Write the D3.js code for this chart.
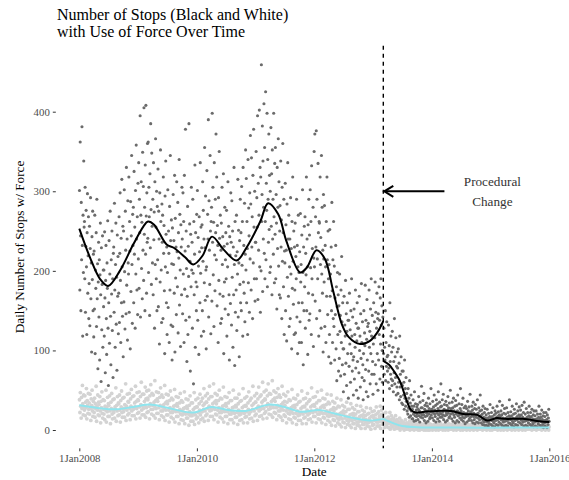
<!DOCTYPE html>
<html lang="en">

<head>
    <meta charset="utf-8">
    <title>Stops with Use of Force</title>
    <script type="text/javascript" src="https://cdn.jsdelivr.net/npm/d3@7/dist/d3.min.js"></script>
    <style>
        body {
            margin: 0;
            background: #fff;
        }

        text {
            font-family: "Liberation Serif", "Times New Roman", serif;
        }

        .tick-label {
            fill: #4d4d4d;
            font-size: 10.8px;
        }
    </style>
</head>

<body>

    <script type="text/javascript">
        //Width and height
        var w = 569;
        var h = 480;

        // Daily counts, one string per month from Jan 2008 to Dec 2015
        var firstMonth = "2008-01";
        var blackByMonth = [
            "301 176 362 244 150 286 214 381 232 118 270 198 338 255",
            "262 190 305 148 231 276 205 120 248 297 172 219 268 140",
            "184 256 131 228 292 165 210 98 243 189 275 150 221 117",
            "225 152 270 96 201 178 248 130 290 165 209 77 186 236",
            "142 214 88 195 260 170 61 229 126 183 244 104 201 155",
            "201 118 249 166 72 188 232 140 95 210 178 263 128 56",
            "160 238 109 196 275 143 82 214 171 250 125 190 66 222",
            "230 148 285 176 104 208 260 133 192 75 245 168 218 121",
            "172 268 135 222 298 188 110 241 160 315 205 143 256 92",
            "250 161 302 199 127 275 226 146 330 182 240 113 288 210",
            "196 318 148 262 225 102 287 174 244 345 208 134 271 232",
            "280 160 325 221 255 128 301 196 358 240 176 268 145 310",
            "215 336 178 290 248 395 142 270 312 203 261 165 349 226",
            "306 188 405 246 280 150 333 221 408 269 172 298 236 360",
            "241 362 198 305 268 144 322 229 385 277 183 348 256 210",
            "290 170 336 239 274 128 312 208 366 255 190 300 150 281",
            "214 328 155 275 240 108 298 186 352 262 201 135 284 236",
            "270 140 318 222 257 175 96 294 205 338 246 160 230 120",
            "198 302 154 250 222 110 281 176 345 238 132 264 209 88",
            "254 130 296 208 238 172 320 98 266 191 230 145 312 224",
            "180 286 122 248 216 340 157 271 201 105 258 230 170 305",
            "240 146 298 196 262 110 320 177 225 378 138 250 203 86",
            "168 281 120 231 193 385 142 259 212 74 246 180 305 201",
            "236 128 290 197 58 262 170 221 333 104 248 186 150 271",
            "180 301 138 242 206 95 268 224 160 336 197 255 118 229",
            "258 150 312 212 276 124 240 185 355 229 163 294 201 102",
            "205 326 168 271 240 390 142 288 226 183 345 250 121 262",
            "280 162 398 236 305 195 261 130 336 220 175 290 248 372",
            "214 318 156 257 232 110 292 188 350 241 171 270 134 226",
            "260 140 305 208 243 168 322 96 231 186 280 152 214 248",
            "190 276 118 234 205 312 145 256 170 88 243 220 159 298",
            "236 132 288 192 250 104 230 170 330 208 81 262 148 219",
            "176 270 125 224 196 315 142 251 210 92 238 183 290 160",
            "248 150 306 207 262 118 330 186 232 172 285 136 221 352",
            "201 316 160 262 228 120 340 185 279 244 148 298 215 370",
            "284 176 342 230 268 140 320 210 378 255 190 300 162 236",
            "236 350 190 292 255 395 164 310 226 270 402 205 330 148",
            "318 200 459 262 296 382 174 338 240 280 410 222 355 190",
            "262 425 214 310 276 398 180 340 290 236 372 252 320 198",
            "300 205 380 256 322 170 352 240 290 221 398 268 185 335",
            "246 355 190 296 260 152 330 228 280 366 206 312 170 250",
            "282 166 338 230 264 140 305 212 360 248 180 290 120 225",
            "210 310 150 258 226 112 284 192 336 240 168 270 130 205",
            "240 140 292 196 228 102 262 178 318 212 158 250 120 230",
            "176 260 122 218 190 290 142 232 96 205 270 160 198 110",
            "224 136 272 186 208 110 245 160 302 198 82 230 150 256",
            "180 268 128 222 195 318 150 240 205 95 258 172 290 138",
            "245 146 302 204 262 120 332 190 228 170 280 105 216 350",
            "205 372 162 268 230 376 140 290 215 190 335 248 118 262",
            "260 150 318 208 242 128 345 196 280 172 226 98 296 215",
            "186 282 130 232 205 110 262 168 318 214 145 250 190 92",
            "208 120 252 168 196 84 230 150 286 175 110 214 140 262",
            "130 206 88 166 145 232 102 180 62 155 198 120 170 74",
            "156 90 196 124 144 68 176 110 218 136 82 160 102 48",
            "102 168 70 132 118 188 84 146 56 124 160 96 138 40",
            "138 80 172 108 126 60 150 96 190 118 74 142 88 44",
            "92 152 64 120 104 176 78 134 50 112 160 86 128 40",
            "128 72 168 100 118 54 146 90 184 110 66 136 82 38",
            "96 150 62 122 106 182 76 138 48 114 164 88 130 42",
            "134 74 176 104 124 58 152 96 190 118 70 144 86 45",
            "108 160 70 136 116 186 82 148 58 128 172 96 140 50",
            "146 88 180 120 138 64 166 108 190 132 80 156 100 60",
            "142 118 96 128 70 104 88 150 62 110 80 136 92 74",
            "94 60 132 78 106 52 160 86 70 118 64 98 56 124",
            "62 104 48 86 72 140 58 92 66 116 44 80 54 98",
            "78 46 102 60 84 38 118 54 70 42 92 58 34 74",
            "56 32 74 44 60 26 88 40 52 30 66 36 46 24",
            "36 20 52 28 40 16 62 26 34 18 44 24 30 14",
            "26 14 38 20 30 11 48 22 18 33 12 25 17 29",
            "20 32 13 26 42 18 24 10 35 21 16 28 55 19",
            "28 15 37 22 19 46 12 26 31 17 24 9 34 21",
            "18 30 11 24 40 20 27 14 33 16 23 52 19 26",
            "26 15 36 22 29 12 44 20 25 17 31 10 38 23",
            "21 33 14 27 48 19 24 11 35 22 16 29 58 20",
            "30 16 38 23 19 45 13 26 32 18 25 10 36 22",
            "19 31 12 25 42 21 28 15 34 17 24 50 20 27",
            "25 14 35 21 28 11 40 19 24 16 30 9 37 22",
            "20 31 12 24 44 18 23 10 33 19 15 27 52 21",
            "24 13 32 19 16 40 11 22 28 15 21 8 30 18",
            "17 27 10 21 36 18 24 12 29 14 20 45 16 23",
            "22 12 30 18 25 9 35 17 21 13 27 8 32 19",
            "16 26 10 20 38 15 21 9 28 17 13 24 44 18",
            "18 9 25 14 20 7 30 12 16 10 22 6 27 15",
            "11 19 6 14 26 10 15 5 21 12 8 17 32 13",
            "15 7 22 12 17 5 28 11 14 9 19 4 24 13",
            "12 21 7 16 30 13 17 6 23 14 10 19 36 15",
            "17 8 24 13 19 6 31 12 15 10 21 5 27 14",
            "11 20 6 15 28 12 16 5 22 13 9 18 38 14",
            "16 8 23 13 18 6 30 11 15 9 20 4 26 14",
            "12 21 7 15 33 13 17 6 24 14 10 19 29 15",
            "18 9 25 13 19 7 31 12 16 10 22 5 35 14",
            "11 20 6 14 27 12 16 5 22 13 9 18 30 14",
            "15 7 22 12 17 5 26 11 14 8 19 4 24 13",
            "10 18 5 13 24 11 14 4 20 12 8 16 30 12",
            "14 6 20 11 16 4 25 10 13 7 18 3 22 12",
            "9 17 5 12 22 10 13 3 19 11 7 15 26 11"
        ];
        var whiteByMonth = [
            "38 22 47 30 15 41 27 56 33 19 44 29",
            "25 43 18 35 28 52 14 37 31 21 46 26",
            "34 20 45 27 12 39 31 50 24 17 36 28",
            "22 40 16 33 27 55 11 30 25 44 19 35",
            "32 18 42 24 9 36 28 48 21 15 38 26",
            "20 37 13 30 25 50 10 28 23 41 17 33",
            "31 17 43 24 8 35 27 46 20 14 38 25",
            "22 39 15 29 26 53 11 31 24 42 18 34",
            "33 19 44 25 10 37 29 49 22 16 40 27",
            "23 41 16 32 27 58 12 30 25 45 19 36",
            "35 21 46 27 13 39 30 51 24 18 42 28",
            "26 43 18 34 29 55 14 36 27 47 21 38",
            "37 22 48 29 15 42 32 60 25 19 45 30",
            "27 45 19 36 31 54 16 39 28 49 22 40",
            "38 23 50 30 14 43 33 57 26 20 46 31",
            "26 44 18 35 30 62 15 37 27 48 21 39",
            "36 21 47 28 13 41 31 53 24 18 44 29",
            "24 41 16 32 27 56 12 34 25 45 19 36",
            "33 19 44 25 10 37 28 49 22 16 40 26",
            "22 38 14 30 25 51 10 31 23 42 17 33",
            "30 17 41 23 8 34 26 46 20 13 37 24",
            "19 35 12 27 22 48 8 28 20 39 15 30",
            "27 15 38 20 6 31 23 43 18 11 34 21",
            "18 34 11 26 21 47 7 28 19 38 14 29",
            "29 16 40 22 9 33 25 45 19 13 36 23",
            "23 40 15 31 26 52 11 33 24 43 18 35",
            "35 20 46 27 12 39 30 55 24 17 42 28",
            "25 42 17 33 28 58 13 35 26 46 20 37",
            "33 19 44 25 10 37 28 50 22 16 40 26",
            "22 39 14 30 25 54 10 31 23 42 17 33",
            "30 17 41 23 8 34 26 47 20 13 37 24",
            "20 37 13 28 23 50 9 29 21 40 16 31",
            "29 16 40 22 7 33 25 45 19 12 36 23",
            "20 37 13 28 23 52 9 30 21 40 16 31",
            "30 17 42 23 9 34 26 48 20 14 37 24",
            "23 40 15 31 26 55 11 33 24 43 18 35",
            "35 20 46 27 12 39 30 54 24 17 42 28",
            "26 44 18 35 30 60 14 37 27 48 21 39",
            "38 23 50 30 15 43 33 58 26 20 46 31",
            "27 45 19 36 31 62 16 38 28 49 22 40",
            "36 21 47 28 13 41 31 52 24 18 44 29",
            "24 41 16 32 27 55 12 34 25 45 19 36",
            "31 17 43 24 9 35 27 48 21 14 38 25",
            "20 37 13 28 23 51 9 30 21 40 16 31",
            "28 15 39 21 7 32 24 44 18 12 35 22",
            "19 36 12 27 22 49 8 29 20 39 15 30",
            "29 16 40 22 8 33 25 46 19 13 36 23",
            "21 38 14 29 24 53 10 31 22 41 17 32",
            "30 17 42 23 9 34 26 48 20 14 37 24",
            "20 37 13 28 23 50 9 30 21 40 16 31",
            "28 15 39 21 7 32 24 45 18 12 35 22",
            "17 33 10 25 20 44 6 26 18 36 13 28",
            "24 12 34 18 5 27 20 40 15 9 30 19",
            "13 29 7 21 16 38 4 22 14 31 10 24",
            "20 9 29 15 3 23 17 35 12 7 26 16",
            "11 26 6 19 14 33 3 20 12 28 8 21",
            "18 8 26 13 2 20 15 31 10 6 23 14",
            "10 23 5 17 12 30 2 18 11 25 7 19",
            "15 7 23 11 2 18 13 28 9 5 20 12",
            "9 21 4 15 11 27 1 17 10 23 6 18",
            "16 7 24 12 2 19 14 29 10 5 21 13",
            "10 23 5 17 13 30 2 19 11 25 7 20",
            "17 20 8 14 3 12 9 22 6 4 15 10",
            "8 16 3 12 9 22 1 13 7 18 4 14",
            "10 4 15 7 1 12 8 18 5 2 13 9",
            "5 11 2 8 6 15 0 9 4 12 3 10",
            "6 2 10 5 0 8 6 13 3 1 9 5",
            "3 8 1 6 4 11 0 7 2 9 1 6",
            "5 1 8 4 0 6 4 10 2 1 7 3",
            "2 7 0 5 3 9 0 6 2 8 1 4",
            "4 1 7 3 0 5 3 9 2 0 6 3",
            "2 6 0 4 3 8 0 5 2 7 1 4",
            "3 0 6 2 5 1 4 8 2 0 5 3",
            "1 5 2 7 0 4 3 6 1 9 2 4",
            "4 2 6 0 3 5 1 7 3 0 6 2",
            "2 6 1 4 0 8 3 5 2 4 1 7",
            "5 1 3 7 2 0 4 6 1 3 9 2",
            "0 4 2 6 3 1 5 8 2 4 0 3",
            "3 7 1 4 0 5 2 6 3 1 4 8",
            "2 0 5 3 7 1 4 2 6 0 3 5",
            "4 2 8 1 3 5 0 4 2 7 1 3",
            "1 5 3 0 6 2 4 9 1 3 5 2",
            "3 1 6 4 0 2 5 3 7 1 4 2",
            "2 4 0 5 3 7 1 3 2 6 0 4",
            "5 2 3 0 6 1 4 8 2 3 1 5",
            "1 3 6 2 4 0 5 3 1 7 2 4",
            "3 0 4 7 1 5 2 4 0 6 3 2",
            "2 5 1 3 6 0 4 2 8 1 3 5",
            "4 1 3 5 0 2 6 3 1 4 7 2",
            "0 3 6 2 4 1 5 2 3 0 4 6",
            "3 5 1 4 2 7 0 3 5 1 2 4",
            "2 0 4 6 3 1 5 2 4 8 1 3",
            "5 2 3 1 6 0 4 3 2 5 1 7",
            "1 4 2 5 0 3 6 2 4 1 3 5",
            "3 1 5 2 4 0 6 3 1 4 2 8",
            "2 5 0 3 6 1 4 2 5 3 0 4"
        ];

        // Smoothed trend lines (before / after the procedural change)
        var blackSmoothBefore = [
            ["2008-01-01", 253], ["2008-03-07", 217], ["2008-05-08", 190], ["2008-06-28", 181],
            ["2008-09-09", 200], ["2008-12-01", 233], ["2009-02-03", 256], ["2009-03-03", 262],
            ["2009-04-10", 258], ["2009-06-27", 233], ["2009-08-10", 229], ["2009-10-20", 217],
            ["2009-12-10", 208], ["2010-02-05", 219], ["2010-04-05", 243], ["2010-06-15", 227],
            ["2010-09-05", 213], ["2010-11-05", 229], ["2011-01-30", 262], ["2011-03-20", 285],
            ["2011-05-22", 271], ["2011-07-12", 237], ["2011-10-05", 198], ["2011-11-15", 204],
            ["2012-01-15", 226], ["2012-03-07", 215], ["2012-04-27", 175], ["2012-06-20", 133],
            ["2012-08-01", 117], ["2012-10-12", 108], ["2012-12-12", 112], ["2013-01-25", 122],
            ["2013-03-05", 137]
        ];
        var blackSmoothAfter = [
            ["2013-03-05", 87], ["2013-04-10", 82], ["2013-05-10", 74], ["2013-06-15", 62],
            ["2013-07-10", 48], ["2013-08-05", 33], ["2013-08-25", 25], ["2013-09-20", 22],
            ["2013-11-15", 23], ["2014-02-01", 24], ["2014-05-01", 24], ["2014-07-15", 20],
            ["2014-10-10", 19], ["2014-12-10", 12], ["2015-02-10", 15], ["2015-04-01", 14],
            ["2015-07-20", 14], ["2015-11-01", 11], ["2016-01-01", 10]
        ];
        var whiteSmoothBefore = [
            ["2008-01-01", 31], ["2008-04-15", 28], ["2008-08-20", 26], ["2008-12-01", 29],
            ["2009-03-15", 32], ["2009-07-01", 28], ["2009-12-10", 22], ["2010-04-01", 29],
            ["2010-07-15", 25], ["2010-11-01", 24], ["2011-04-01", 32], ["2011-07-15", 28],
            ["2011-10-05", 23], ["2012-02-01", 25], ["2012-05-01", 21], ["2012-08-10", 16],
            ["2012-12-10", 12], ["2013-03-05", 14]
        ];
        var whiteSmoothAfter = [
            ["2013-03-05", 14], ["2013-05-01", 9], ["2013-07-01", 5], ["2013-10-01", 3.5],
            ["2014-06-01", 3], ["2015-06-01", 3], ["2016-01-01", 3]
        ];

        var changeDate = "2013-03-05";
        var xTicks = ["2008-01-01", "2010-01-01", "2012-01-01", "2014-01-01", "2016-01-01"];
        var yTicks = [0, 100, 200, 300, 400];
        var arrowFrom = ["2014-03-20", 300];
        var noteAt = ["2015-01-12", 300];
        var noteLines = ["Procedural", "Change"];

        var parse = d3.timeParse("%Y-%m-%d");
        var parseMonth = d3.timeParse("%Y-%m");

        //Scales (panel is 5% wider than the data on each side, like ggplot)
        var x = d3.scaleTime()
            .domain([parse("2008-01-01"), parse("2016-01-01")])
            .range([79.3, 549.3]);
        var y = d3.scaleLinear()
            .domain([0, 400])
            .range([430, 111.7]);

        var panelLeft = x(parse("2007-08-08"));
        var panelTop = y(483);
        var panelBottom = y(-23);

        //Turn the monthly strings into dated points
        function toPoints(byMonth) {
            var pts = [];
            var start = parseMonth(firstMonth);
            byMonth.forEach(function (s, i) {
                var m0 = d3.timeMonth.offset(start, i);
                var m1 = d3.timeMonth.offset(start, i + 1);
                var vals = s.split(" ").map(Number);
                vals.forEach(function (v, j) {
                    var t = +m0 + (j + 0.5) / vals.length * (m1 - m0);
                    pts.push({ date: new Date(t), value: v });
                });
            });
            return pts;
        }

        var svg = d3.select("body")
            .append("svg")
            .attr("width", w).attr("height", h);

        //Points
        svg.append("g").selectAll("circle")
            .data(toPoints(whiteByMonth))
            .enter()
            .append("circle")
            .attr("cx", d => x(d.date))
            .attr("cy", d => y(d.value))
            .attr("r", 1.9)
            .style("fill", "#d3d3d3");

        svg.append("g").selectAll("circle")
            .data(toPoints(blackByMonth))
            .enter()
            .append("circle")
            .attr("cx", d => x(d.date))
            .attr("cy", d => y(d.value))
            .attr("r", 1.55)
            .style("fill", "#6b6b6b");

        //Smooth lines
        var line = d3.line()
            .x(d => x(parse(d[0])))
            .y(d => y(d[1]))
            .curve(d3.curveCatmullRom.alpha(0.5));

        [whiteSmoothBefore, whiteSmoothAfter].forEach(function (seg) {
            svg.append("path")
                .attr("d", line(seg))
                .style("fill", "none")
                .style("stroke", "#8ee5ee")
                .style("stroke-width", 2);
        });
        [blackSmoothBefore, blackSmoothAfter].forEach(function (seg) {
            svg.append("path")
                .attr("d", line(seg))
                .style("fill", "none")
                .style("stroke", "#000")
                .style("stroke-width", 2);
        });

        //Procedural change line
        svg.append("line")
            .attr("x1", x(parse(changeDate))).attr("x2", x(parse(changeDate)))
            .attr("y1", panelTop).attr("y2", panelBottom)
            .style("stroke", "#000")
            .style("stroke-width", 1.4)
            .style("stroke-dasharray", "4,4");

        //Arrow and note
        var ax0 = x(parse(arrowFrom[0])), ay = y(arrowFrom[1]);
        var ax1 = x(parse(changeDate)) + 1;
        svg.append("line")
            .attr("x1", ax0).attr("x2", ax1)
            .attr("y1", ay).attr("y2", ay)
            .style("stroke", "#000").style("stroke-width", 2);
        svg.append("path")
            .attr("d", "M" + (ax1 + 9) + "," + (ay - 5.5) + "L" + ax1 + "," + ay + "L" + (ax1 + 9) + "," + (ay + 5.5))
            .style("fill", "none").style("stroke", "#000").style("stroke-width", 2);

        svg.append("text")
            .attr("x", x(parse(noteAt[0])))
            .attr("y", y(noteAt[1]))
            .attr("text-anchor", "middle")
            .style("font-size", "13.2px")
            .style("fill", "#333")
            .selectAll("tspan")
            .data(noteLines)
            .enter()
            .append("tspan")
            .attr("x", x(parse(noteAt[0])))
            .attr("dy", (d, i) => i == 0 ? "-5" : "20")
            .text(d => d);

        //Axes
        var xAxis = svg.append("g")
            .attr("transform", "translate(0," + panelBottom + ")")
            .call(d3.axisBottom(x)
                .tickValues(xTicks.map(parse))
                .tickSize(3)
                .tickPadding(3)
                .tickFormat(d3.timeFormat("%-d%b%Y")));
        var yAxis = svg.append("g")
            .attr("transform", "translate(" + panelLeft + ",0)")
            .call(d3.axisLeft(y)
                .tickValues(yTicks)
                .tickSize(3)
                .tickPadding(3));

        [xAxis, yAxis].forEach(function (g) {
            g.select(".domain").remove();
            g.selectAll(".tick line").style("stroke", "#333").style("stroke-width", 1);
            g.selectAll(".tick text").attr("class", "tick-label").style("font-family", null);
        });

        //Titles
        svg.append("text")
            .attr("x", 57).attr("y", 20)
            .style("font-size", "16px")
            .text("Number of Stops (Black and White)");
        svg.append("text")
            .attr("x", 57).attr("y", 36.5)
            .style("font-size", "16px")
            .text("with Use of Force Over Time");

        svg.append("text")
            .attr("x", (panelLeft + x(parse("2016-05-25"))) / 2)
            .attr("y", 476)
            .attr("text-anchor", "middle")
            .style("font-size", "13.2px")
            .text("Date");

        svg.append("text")
            .attr("transform", "translate(24," + (panelTop + panelBottom) / 2 + ") rotate(-90)")
            .attr("text-anchor", "middle")
            .style("font-size", "13.2px")
            .text("Daily Number of Stops w/ Force");
    </script>

</body>

</html>
